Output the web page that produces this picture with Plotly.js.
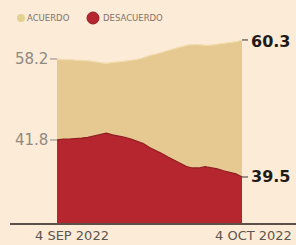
<!DOCTYPE html>
<html>
<head>
<meta charset="utf-8">
<script src="https://cdn.plot.ly/plotly-3.0.1.min.js"></script>
<style>
  html, body { margin: 0; padding: 0; background: #fcebd6; }
  #chart { width: 296px; height: 245px; }
</style>
</head>
<body>
<div id="chart"></div>
<script>
// ---- data ----
var dates = [
  '2022-09-04','2022-09-05','2022-09-06','2022-09-07','2022-09-08','2022-09-09','2022-09-10',
  '2022-09-11','2022-09-12','2022-09-13','2022-09-14','2022-09-15','2022-09-16','2022-09-17',
  '2022-09-18','2022-09-19','2022-09-20','2022-09-21','2022-09-22','2022-09-23','2022-09-24',
  '2022-09-25','2022-09-26','2022-09-27','2022-09-28','2022-09-29','2022-09-30','2022-10-01',
  '2022-10-02','2022-10-03','2022-10-04'
];
var acuerdo = [
  58.20, 58.13, 58.13, 58.07, 58.05, 58.01, 57.91, 57.81, 57.73, 57.82, 57.88,
  57.96, 58.06, 58.17, 58.33, 58.57, 58.74, 58.93, 59.14, 59.34, 59.53,
  59.71, 59.79, 59.79, 59.70, 59.74, 59.83, 59.93, 60.02, 60.11, 60.30
];
var desacuerdo = [
  41.80, 41.86, 41.86, 41.91, 41.92, 41.96, 42.05, 42.14, 42.22, 42.12, 42.05,
  41.97, 41.86, 41.74, 41.58, 41.33, 41.15, 40.96, 40.74, 40.53, 40.34,
  40.15, 40.06, 40.06, 40.14, 40.09, 40.00, 39.89, 39.79, 39.69, 39.50
];
var seriesNames = ['ACUERDO', 'DESACUERDO'];
var dateLabels = ['4 SEP 2022', '4 OCT 2022'];

// ---- style ----
var BG = '#fcebd6';
var BEIGE = '#e5c991';
var RED = '#b6262e';
var PLOT_L = 57, PLOT_R = 242, PLOT_T = 30, PLOT_B = 224;
function px(x) { return (x - PLOT_L) / (PLOT_R - PLOT_L); }
function py(y) { return (PLOT_B - y) / (PLOT_B - PLOT_T); }

var last = dates.length - 1;

var traces = [
  {
    x: dates, y: acuerdo, name: seriesNames[0], yaxis: 'y',
    type: 'scatter', mode: 'lines', fill: 'tozeroy',
    fillcolor: BEIGE, line: { color: '#f3dcae', width: 1.2, shape: 'spline', smoothing: 0.6 },
    hoverinfo: 'skip'
  },
  {
    x: dates, y: desacuerdo, name: seriesNames[1], yaxis: 'y2',
    type: 'scatter', mode: 'lines', fill: 'tozeroy',
    fillcolor: RED, line: { color: '#8f1d22', width: 1.2 },
    hoverinfo: 'skip'
  }
];

var leftFont = { family: 'DejaVu Sans', size: 15, color: '#8f8982' };
var rightFont = { family: 'DejaVu Sans', size: 16, color: '#1e1a18', weight: 'bold' };
var dateFont = { family: 'DejaVu Sans', size: 13, color: '#5c5650' };
var legFont = { family: 'DejaVu Sans', size: 8.5, color: '#7d746c' };

var annotations = [
  { x: 0, xref: 'paper', y: acuerdo[0], yref: 'y', text: acuerdo[0].toFixed(1),
    xanchor: 'right', yanchor: 'middle', xshift: -7, showarrow: false, font: leftFont },
  { x: 0, xref: 'paper', y: desacuerdo[0], yref: 'y2', text: desacuerdo[0].toFixed(1),
    xanchor: 'right', yanchor: 'middle', xshift: -7, showarrow: false, font: leftFont },
  { x: 1, xref: 'paper', y: acuerdo[last], yref: 'y', text: acuerdo[last].toFixed(1),
    xanchor: 'left', yanchor: 'middle', xshift: 7, yshift: -2, showarrow: false, font: rightFont },
  { x: 1, xref: 'paper', y: desacuerdo[last], yref: 'y2', text: desacuerdo[last].toFixed(1),
    xanchor: 'left', yanchor: 'middle', xshift: 7, showarrow: false, font: rightFont },
  { x: 0, xref: 'paper', y: 0, yref: 'paper', text: dateLabels[0],
    xanchor: 'left', yanchor: 'top', xshift: -24, yshift: -2, showarrow: false, font: dateFont },
  { x: 1, xref: 'paper', y: 0, yref: 'paper', text: dateLabels[1],
    xanchor: 'left', yanchor: 'top', xshift: -29, yshift: -2, showarrow: false, font: dateFont },
  { x: px(25), xref: 'paper', y: py(18), yref: 'paper', text: seriesNames[0],
    xanchor: 'left', yanchor: 'middle', showarrow: false, font: legFont },
  { x: px(101), xref: 'paper', y: py(18), yref: 'paper', text: seriesNames[1],
    xanchor: 'left', yanchor: 'middle', showarrow: false, font: legFont }
];

var shapes = [
  // baseline
  { type: 'line', xref: 'paper', yref: 'paper', x0: px(10), x1: px(296), y0: 0, y1: 0,
    line: { color: '#5d5049', width: 2 } },
  // left ticks
  { type: 'line', xref: 'paper', yref: 'y', x0: px(50), x1: 0, y0: acuerdo[0], y1: acuerdo[0],
    line: { color: '#8f8982', width: 1 } },
  { type: 'line', xref: 'paper', yref: 'y2', x0: px(50), x1: 0, y0: desacuerdo[0], y1: desacuerdo[0],
    line: { color: '#8f8982', width: 1 } },
  // right ticks
  { type: 'line', xref: 'paper', yref: 'y', x0: 1, x1: px(248), y0: acuerdo[last], y1: acuerdo[last],
    line: { color: '#3a3330', width: 1 } },
  { type: 'line', xref: 'paper', yref: 'y2', x0: 1, x1: px(248), y0: desacuerdo[last], y1: desacuerdo[last],
    line: { color: '#3a3330', width: 1 } },
  // legend swatches
  { type: 'circle', xref: 'paper', yref: 'paper', x0: px(17), x1: px(25), y0: py(22), y1: py(14),
    fillcolor: '#e2d18f', line: { width: 0 } },
  { type: 'circle', xref: 'paper', yref: 'paper', x0: px(87), x1: px(99), y0: py(24), y1: py(12),
    fillcolor: RED, line: { color: '#8f1d22', width: 1 } }
];

var layout = {
  width: 296, height: 245,
  margin: { l: PLOT_L, r: 296 - PLOT_R, t: PLOT_T, b: 245 - PLOT_B, pad: 0 },
  paper_bgcolor: BG, plot_bgcolor: BG,
  showlegend: false,
  xaxis: { type: 'date', range: [dates[0], dates[last]], visible: false, fixedrange: true },
  yaxis: { range: [39.97, 61.4], visible: false, fixedrange: true },
  yaxis2: { range: [36.58, 48.63], overlaying: 'y', visible: false, fixedrange: true },
  annotations: annotations,
  shapes: shapes
};

Plotly.newPlot('chart', traces, layout, { staticPlot: true, displayModeBar: false });
</script>
</body>
</html>
